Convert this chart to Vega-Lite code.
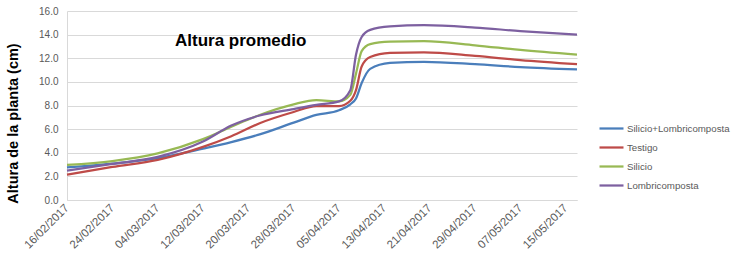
{
  "$schema": "https://vega.github.io/schema/vega-lite/v6.json",
  "autosize": {"type": "none"},
  "padding": {"left": 67, "top": 11, "right": 162, "bottom": 67},
  "width": 510,
  "height": 189,
  "background": "white",
  "title": {
    "text": "Altura promedio",
    "anchor": "start",
    "frame": "group",
    "dx": 108,
    "dy": 61,
    "baseline": "alphabetic",
    "font": "Liberation Sans",
    "fontSize": 17,
    "fontWeight": "bold",
    "color": "#000000"
  },
  "data": {
    "values": [
      {"fecha": "2017-02-16T00:00:00Z", "Silicio+Lombricomposta": 2.77, "Testigo": 2.15, "Silicio": 2.97, "Lombricomposta": 2.48},
      {"fecha": "2017-02-24T00:00:00Z", "Silicio+Lombricomposta": 3.08, "Testigo": 2.8, "Silicio": 3.3, "Lombricomposta": 3.05},
      {"fecha": "2017-03-04T00:00:00Z", "Silicio+Lombricomposta": 3.55, "Testigo": 3.4, "Silicio": 3.95, "Lombricomposta": 3.65},
      {"fecha": "2017-03-12T00:00:00Z", "Silicio+Lombricomposta": 4.35, "Testigo": 4.5, "Silicio": 5.15, "Lombricomposta": 4.95},
      {"fecha": "2017-03-17T00:00:00Z", "Silicio+Lombricomposta": 4.9, "Testigo": 5.4, "Silicio": 6.2, "Lombricomposta": 6.3},
      {"fecha": "2017-03-22T00:00:00Z", "Silicio+Lombricomposta": 5.55, "Testigo": 6.5, "Silicio": 7.2, "Lombricomposta": 7.15},
      {"fecha": "2017-03-28T00:00:00Z", "Silicio+Lombricomposta": 6.55, "Testigo": 7.45, "Silicio": 8.1, "Lombricomposta": 7.7},
      {"fecha": "2017-04-01T00:00:00Z", "Silicio+Lombricomposta": 7.2, "Testigo": 7.95, "Silicio": 8.45, "Lombricomposta": 8.05},
      {"fecha": "2017-04-05T00:00:00Z", "Silicio+Lombricomposta": 7.6, "Testigo": 7.95, "Silicio": 8.35, "Lombricomposta": 8.35},
      {"fecha": "2017-04-07T00:00:00Z", "Silicio+Lombricomposta": 8.1, "Testigo": 8.4, "Silicio": 8.9, "Lombricomposta": 9.3},
      {"fecha": "2017-04-08T00:00:00Z", "Silicio+Lombricomposta": 8.6, "Testigo": 9.3, "Silicio": 10.7, "Lombricomposta": 12.3},
      {"fecha": "2017-04-09T00:00:00Z", "Silicio+Lombricomposta": 9.9, "Testigo": 11.3, "Silicio": 12.6, "Lombricomposta": 13.8},
      {"fecha": "2017-04-10T12:00:00Z", "Silicio+Lombricomposta": 11.1, "Testigo": 12.1, "Silicio": 13.2, "Lombricomposta": 14.4},
      {"fecha": "2017-04-14T00:00:00Z", "Silicio+Lombricomposta": 11.6, "Testigo": 12.45, "Silicio": 13.4, "Lombricomposta": 14.7},
      {"fecha": "2017-04-20T00:00:00Z", "Silicio+Lombricomposta": 11.7, "Testigo": 12.5, "Silicio": 13.45, "Lombricomposta": 14.8},
      {"fecha": "2017-04-29T00:00:00Z", "Silicio+Lombricomposta": 11.5, "Testigo": 12.2, "Silicio": 13.1, "Lombricomposta": 14.6},
      {"fecha": "2017-05-07T00:00:00Z", "Silicio+Lombricomposta": 11.25, "Testigo": 11.85, "Silicio": 12.7, "Lombricomposta": 14.3},
      {"fecha": "2017-05-17T00:00:00Z", "Silicio+Lombricomposta": 11.05, "Testigo": 11.5, "Silicio": 12.3, "Lombricomposta": 14.0}
    ]
  },
  "transform": [
    {"fold": ["Silicio+Lombricomposta", "Testigo", "Silicio", "Lombricomposta"], "as": ["serie", "altura"]}
  ],
  "mark": {"type": "line", "interpolate": "monotone", "strokeWidth": 2.25},
  "encoding": {
    "x": {
      "field": "fecha",
      "type": "temporal",
      "scale": {
        "type": "utc",
        "domain": [
          {"year": 2017, "month": 2, "date": 16, "utc": true},
          {"year": 2017, "month": 5, "date": 17, "utc": true}
        ],
        "nice": false
      },
      "axis": {
        "title": null,
        "format": "%d/%m/%Y",
        "values": [
          {"year": 2017, "month": 2, "date": 16, "utc": true},
          {"year": 2017, "month": 2, "date": 24, "utc": true},
          {"year": 2017, "month": 3, "date": 4, "utc": true},
          {"year": 2017, "month": 3, "date": 12, "utc": true},
          {"year": 2017, "month": 3, "date": 20, "utc": true},
          {"year": 2017, "month": 3, "date": 28, "utc": true},
          {"year": 2017, "month": 4, "date": 5, "utc": true},
          {"year": 2017, "month": 4, "date": 13, "utc": true},
          {"year": 2017, "month": 4, "date": 21, "utc": true},
          {"year": 2017, "month": 4, "date": 29, "utc": true},
          {"year": 2017, "month": 5, "date": 7, "utc": true},
          {"year": 2017, "month": 5, "date": 15, "utc": true}
        ],
        "labelAngle": -45,
        "labelAlign": "right",
        "labelBaseline": "middle",
        "labelPadding": 6,
        "labelFont": "Liberation Sans",
        "labelFontSize": 11.5,
        "labelColor": "#595959",
        "labelOverlap": false,
        "labelBound": false,
        "labelFlush": false,
        "ticks": false,
        "grid": false,
        "domainColor": "#D9D9D9",
        "domainWidth": 1
      }
    },
    "y": {
      "field": "altura",
      "type": "quantitative",
      "scale": {"domain": [0, 16], "nice": false},
      "axis": {
        "title": "Altura de la planta (cm)",
        "titleFont": "Liberation Sans",
        "titleFontSize": 14.5,
        "titleFontWeight": "bold",
        "titleColor": "#000000",
        "titleAngle": 270,
        "titleAlign": "center",
        "titleBaseline": "alphabetic",
        "titleX": -49.5,
        "titleY": 112,
        "values": [0, 2, 4, 6, 8, 10, 12, 14, 16],
        "format": ".1f",
        "labelFont": "Liberation Sans",
        "labelFontSize": 10,
        "labelColor": "#595959",
        "labelPadding": 9,
        "ticks": false,
        "grid": true,
        "gridColor": "#D9D9D9",
        "gridWidth": 1,
        "domainColor": "#D9D9D9",
        "domainWidth": 1
      }
    },
    "color": {
      "field": "serie",
      "type": "nominal",
      "scale": {
        "domain": ["Silicio+Lombricomposta", "Testigo", "Silicio", "Lombricomposta"],
        "range": ["#4A7EBB", "#BE4B48", "#98B954", "#7D60A0"]
      },
      "legend": {
        "title": null,
        "orient": "none",
        "legendX": 531,
        "legendY": 104,
        "symbolType": "stroke",
        "symbolSize": 576,
        "symbolStrokeWidth": 2.25,
        "labelFont": "Liberation Sans",
        "labelFontSize": 9.7,
        "labelColor": "#595959",
        "labelOffset": 2,
        "rowPadding": 0
      }
    }
  },
  "config": {
    "view": {"stroke": null}
  }
}
